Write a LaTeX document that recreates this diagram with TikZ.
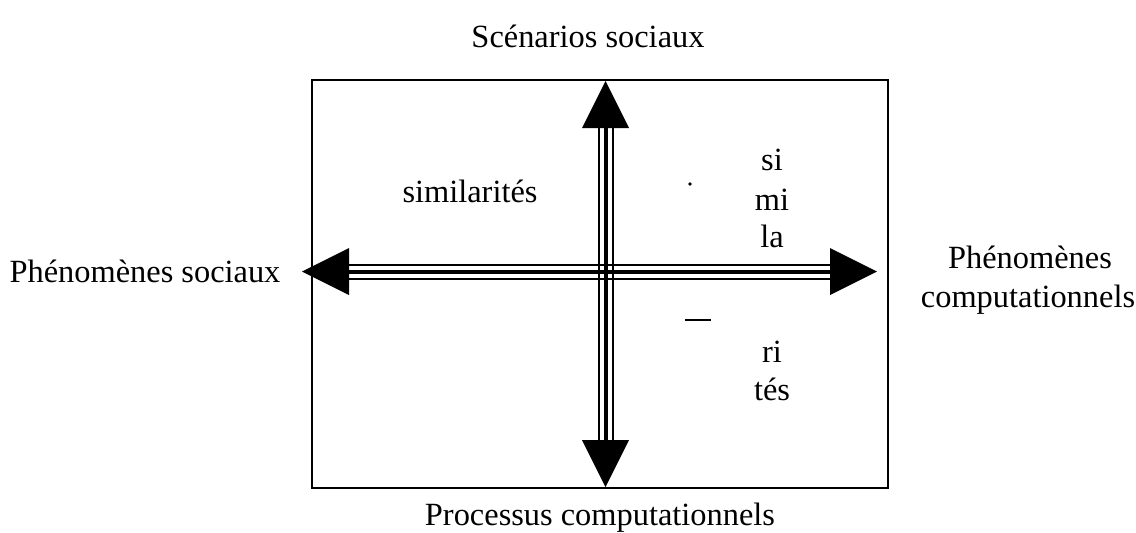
\documentclass[tikz,border=0pt]{standalone}
\usepackage{fontspec}
\setmainfont{Liberation Serif}
\begin{document}
\begin{tikzpicture}[x=0.5pt,y=-0.5pt,
  lbl/.style={font=\fontsize{16.2}{19}\selectfont, inner sep=0pt, anchor=base},
  frame/.style={line width=1pt},
  shaftout/.style={line width=8pt},
  shaftgap/.style={white, line width=6pt},
  shaftin/.style={line width=2pt},
  headfill/.style={fill=black}]
\useasboundingbox (0,0) rectangle (1136,532);
% frame
\draw[frame] (312,80) rectangle (888,488);
% arrow coordinates
\coordinate (Ltip) at (302,271.5);
\coordinate (Lbase) at (349,271.5);
\coordinate (Rtip) at (877,271.5);
\coordinate (Rbase) at (830,271.5);
\coordinate (Ttip) at (605.5,81);
\coordinate (Tbase) at (605.5,128);
\coordinate (Btip) at (605.5,487);
\coordinate (Bbase) at (605.5,440);
% shafts
\draw[shaftout] (Lbase) -- (Rbase);
\draw[shaftout] (Tbase) -- (Bbase);
\draw[shaftgap] (Lbase) -- (Rbase);
\draw[shaftgap] (Tbase) -- (Bbase);
\draw[shaftin] (Lbase) -- (Rbase);
\draw[shaftin] (Tbase) -- (Bbase);
\draw[line width=1pt] ([yshift=3.5pt]Lbase) -- ([yshift=3.5pt]Rbase);
\draw[line width=1pt] ([yshift=-3.5pt]Lbase) -- ([yshift=-3.5pt]Rbase);
\draw[line width=1pt] ([xshift=3.5pt]Tbase) -- ([xshift=3.5pt]Bbase);
\draw[line width=1pt] ([xshift=-3.5pt]Tbase) -- ([xshift=-3.5pt]Bbase);
% heads
\fill[headfill] (Ltip) -- ([yshift=11.75pt]Lbase) -- ([yshift=-11.75pt]Lbase) -- cycle;
\fill[headfill] (Rtip) -- ([yshift=11.75pt]Rbase) -- ([yshift=-11.75pt]Rbase) -- cycle;
\fill[headfill] (Ttip) -- ([xshift=11.75pt]Tbase) -- ([xshift=-11.75pt]Tbase) -- cycle;
\fill[headfill] (Btip) -- ([xshift=11.75pt]Bbase) -- ([xshift=-11.75pt]Bbase) -- cycle;
% labels
\node[lbl] (scen) at (588,47) {Scénarios sociaux};
\node[lbl] (phsoc) at (145,282) {Phénomènes sociaux};
\node[lbl] (phc1) at (1030,268) {Phénomènes};
\node[lbl] (phc2) at (1028,307) {computationnels};
\node[lbl] (proc) at (600,525) {Processus computationnels};
\node[lbl] (sim) at (470,202) {similarités};
\node[lbl] (v1) at (772,170) {si};
\node[lbl] (v2) at (772,210) {mi};
\node[lbl] (v3) at (772,247) {la};
\node[lbl] (v4) at (772,362) {ri};
\node[lbl] (v5) at (772,400) {tés};
\fill (690,184) circle (0.9pt);
\draw[line width=0.8pt] (685,320) -- (711,320);
\end{tikzpicture}
\end{document}
